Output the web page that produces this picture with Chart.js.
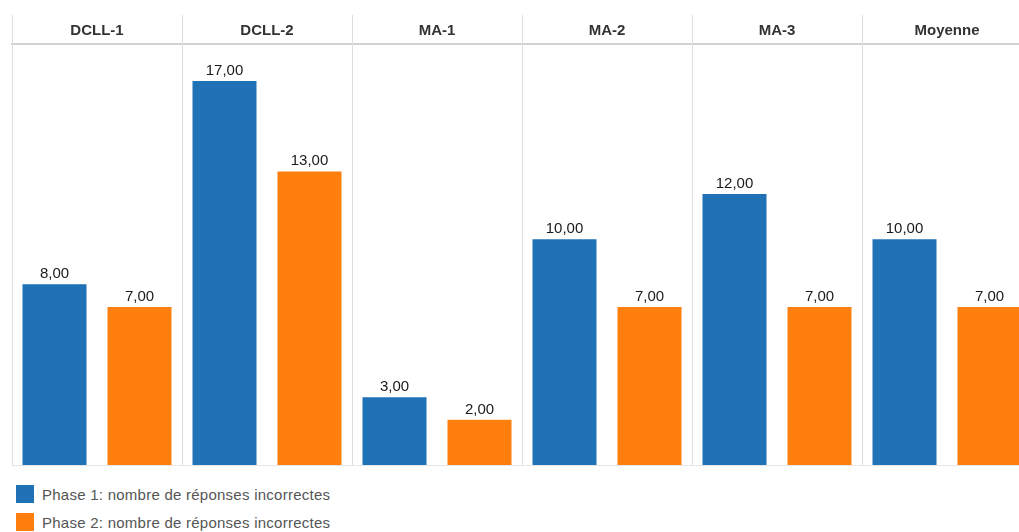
<!DOCTYPE html>
<html>
<head>
<meta charset="utf-8">
<script src="https://cdn.jsdelivr.net/npm/chart.js@4.4.1/dist/chart.umd.min.js"></script>
<style>
  html, body { margin: 0; padding: 0; background: #fff; overflow: hidden; width: 1019px; height: 532px; }
  #wrap { position: absolute; left: 0; top: 0; width: 1040px; height: 470px; }
  #legende { position: absolute; left: 16px; top: 485px; font-family: "Liberation Sans", Arial, sans-serif; font-size: 15px; color: #555; letter-spacing: 0.25px; }
  .item { display: flex; align-items: center; height: 18px; margin-bottom: 10px; }
  .carre { width: 18px; height: 18px; margin-right: 8px; }
</style>
</head>
<body>
<div id="wrap"><canvas id="graphique" width="1040" height="470"></canvas></div>
<div id="legende"></div>
<script>
const categories = ['DCLL-1', 'DCLL-2', 'MA-1', 'MA-2', 'MA-3', 'Moyenne'];
const phase1 = [8, 17, 3, 10, 12, 10];
const phase2 = [7, 13, 2, 7, 7, 7];
const series = ['Phase 1: nombre de réponses incorrectes', 'Phase 2: nombre de réponses incorrectes'];
const couleurs = ['#1f72b6', '#ff7f0e'];

// separateurs + ligne de base + valeurs
const decor = {
  id: 'decor',
  beforeDatasetsDraw(chart) {
    const ctx = chart.ctx;
    const x = chart.scales.x;
    const area = chart.chartArea;
    const demi = (x.getPixelForValue(1) - x.getPixelForValue(0)) / 2;
    ctx.save();
    ctx.strokeStyle = '#dedede';
    ctx.lineWidth = 1;
    for (let i = 0; i <= categories.length; i++) {
      const px = Math.round(x.getPixelForValue(i) - demi) + 0.5;
      ctx.beginPath();
      ctx.moveTo(px, 15);
      ctx.lineTo(px, area.bottom);
      ctx.stroke();
    }
    ctx.strokeStyle = '#e6e6e6';
    ctx.beginPath();
    ctx.moveTo(area.left, area.bottom + 0.5);
    ctx.lineTo(area.right, area.bottom + 0.5);
    ctx.stroke();
    ctx.restore();
  },
  afterDatasetsDraw(chart) {
    const ctx = chart.ctx;
    ctx.save();
    ctx.font = '15px "Liberation Sans", Arial, sans-serif';
    ctx.fillStyle = '#1a1a1a';
    ctx.textAlign = 'center';
    ctx.textBaseline = 'alphabetic';
    chart.data.datasets.forEach((ds, i) => {
      chart.getDatasetMeta(i).data.forEach((bar, j) => {
        ctx.fillText(ds.data[j].toFixed(2).replace('.', ','), bar.x, bar.y - 6);
      });
    });
    ctx.restore();
  }
};

new Chart(document.getElementById('graphique'), {
  type: 'bar',
  data: {
    labels: categories,
    datasets: [
      { label: series[0], data: phase1, backgroundColor: couleurs[0] },
      { label: series[1], data: phase2, backgroundColor: couleurs[1] }
    ]
  },
  options: {
    responsive: false,
    animation: false,
    devicePixelRatio: 1,
    categoryPercentage: 1.0,
    barPercentage: 0.753,
    layout: { padding: { left: 12, right: 8, top: 15, bottom: 5 } },
    plugins: {
      legend: { display: false },
      tooltip: { enabled: false }
    },
    scales: {
      x: {
        position: 'top',
        afterFit: function (s) { s.height = 29; },
        grid: { display: false },
        border: { display: true, color: '#d2d2d2', width: 2 },
        ticks: {
          padding: -4,
          color: '#333',
          font: { family: '"Liberation Sans", Arial, sans-serif', size: 15, weight: 'bold' }
        }
      },
      y: {
        display: false,
        min: 0,
        max: 18.64
      }
    }
  },
  plugins: [decor]
});

// legende HTML
const leg = document.getElementById('legende');
series.forEach((s, i) => {
  const d = document.createElement('div');
  d.className = 'item';
  d.innerHTML = '<span class="carre" style="background:' + couleurs[i] + '"></span>' + s;
  leg.appendChild(d);
});
</script>
</body>
</html>
